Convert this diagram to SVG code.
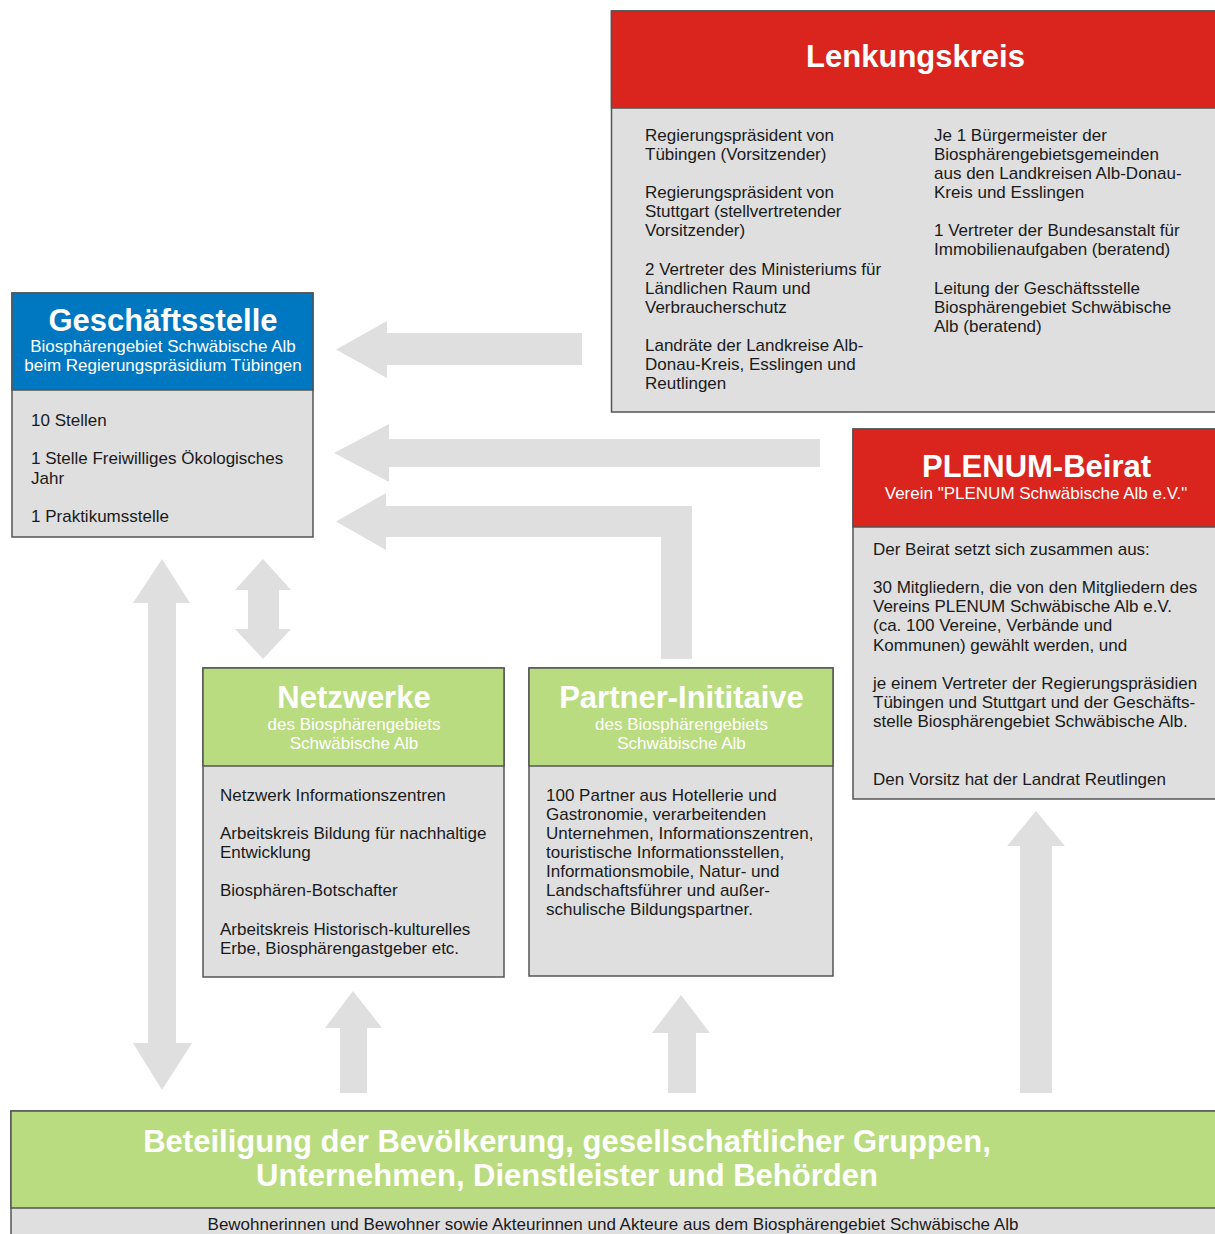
<svg xmlns="http://www.w3.org/2000/svg" width="1215" height="1234" viewBox="0 0 1215 1234">
<style>
.box{fill:#dfdfdf;stroke:#555;stroke-width:1.5}
.red{fill:#d9251d;stroke:#555;stroke-width:1.5}
.blue{fill:#0077c1;stroke:#555;stroke-width:1.5}
.green{fill:#badc80;stroke:#555;stroke-width:1.5}
.arr{fill:#dfdfdf}
text{font-family:"Liberation Sans",Arial,sans-serif}
.t{font-size:31px;font-weight:bold;fill:#fff;text-anchor:middle}
.s{font-size:17px;fill:#fff;text-anchor:middle}
.b{font-size:17px;fill:#1a1a1a}
</style>
<rect width="1215" height="1234" fill="#fff"/>
<g id="connectors">
<polygon class="arr" points="582,333 387,333 387,321 336,349.5 387,378 387,365 582,365"/>
<polygon class="arr" points="820,439 389,439 389,424 334,453 389,482 389,467 820,467"/>
<polygon class="arr" points="692,659 692,506 386,506 386,493 336,521.5 386,550 386,537 661,537 661,659"/>
<polygon class="arr" points="263,559 291,590 279,590 279,629 291,629 263,659 235,629 248,629 248,590 235,590"/>
<polygon class="arr" points="162,559 190,603 176,603 176,1043 192,1043 162,1090 133,1043 148,1043 148,603 133,603"/>
<polygon class="arr" points="353,991 382,1028 367,1028 367,1093 340,1093 340,1028 325,1028"/>
<polygon class="arr" points="681,995 710,1033 696,1033 696,1093 668,1093 668,1033 652,1033"/>
<polygon class="arr" points="1036,811 1065,846 1052,846 1052,1093 1020,1093 1020,846 1007,846"/>
</g>
<g id="lenkungskreis">
<rect class="box" x="611.5" y="11" width="620" height="401"/>
<rect class="red" x="611.5" y="11" width="620" height="97"/>
<text class="t" x="915.5" y="67">Lenkungskreis</text>
<text class="b" x="645" y="141">Regierungspräsident von</text>
<text class="b" x="645" y="160">Tübingen (Vorsitzender)</text>
<text class="b" x="645" y="198">Regierungspräsident von</text>
<text class="b" x="645" y="217">Stuttgart (stellvertretender</text>
<text class="b" x="645" y="236">Vorsitzender)</text>
<text class="b" x="645" y="275">2 Vertreter des Ministeriums für</text>
<text class="b" x="645" y="294">Ländlichen Raum und</text>
<text class="b" x="645" y="313">Verbraucherschutz</text>
<text class="b" x="645" y="351">Landräte der Landkreise Alb-</text>
<text class="b" x="645" y="370">Donau-Kreis, Esslingen und</text>
<text class="b" x="645" y="389">Reutlingen</text>
<text class="b" x="934" y="141">Je 1 Bürgermeister der</text>
<text class="b" x="934" y="160">Biosphärengebietsgemeinden</text>
<text class="b" x="934" y="179">aus den Landkreisen Alb-Donau-</text>
<text class="b" x="934" y="198">Kreis und Esslingen</text>
<text class="b" x="934" y="236">1 Vertreter der Bundesanstalt für</text>
<text class="b" x="934" y="255">Immobilienaufgaben (beratend)</text>
<text class="b" x="934" y="294">Leitung der Geschäftsstelle</text>
<text class="b" x="934" y="313">Biosphärengebiet Schwäbische</text>
<text class="b" x="934" y="332">Alb (beratend)</text>
</g>
<g id="geschaeftsstelle">
<rect class="box" x="12" y="293" width="301" height="244"/>
<rect class="blue" x="12" y="293" width="301" height="97"/>
<text class="t" x="163" y="331">Geschäftsstelle</text>
<text class="s" x="163" y="352">Biosphärengebiet Schwäbische Alb</text>
<text class="s" x="163" y="371">beim Regierungspräsidium Tübingen</text>
<text class="b" x="31" y="426">10 Stellen</text>
<text class="b" x="31" y="464">1 Stelle Freiwilliges Ökologisches</text>
<text class="b" x="31" y="484">Jahr</text>
<text class="b" x="31" y="522">1 Praktikumsstelle</text>
</g>
<g id="plenum">
<rect class="box" x="853" y="429" width="380" height="370"/>
<rect class="red" x="853" y="429" width="380" height="98"/>
<text class="t" x="1036.5" y="477">PLENUM-Beirat</text>
<text class="s" x="1036" y="499">Verein "PLENUM Schwäbische Alb e.V."</text>
<text class="b" x="873" y="555">Der Beirat setzt sich zusammen aus:</text>
<text class="b" x="873" y="593">30 Mitgliedern, die von den Mitgliedern des</text>
<text class="b" x="873" y="612">Vereins PLENUM Schwäbische Alb e.V.</text>
<text class="b" x="873" y="631">(ca. 100 Vereine, Verbände und</text>
<text class="b" x="873" y="651">Kommunen) gewählt werden, und</text>
<text class="b" x="873" y="689">je einem Vertreter der Regierungspräsidien</text>
<text class="b" x="873" y="708">Tübingen und Stuttgart und der Geschäfts-</text>
<text class="b" x="873" y="727">stelle Biosphärengebiet Schwäbische Alb.</text>
<text class="b" x="873" y="785">Den Vorsitz hat der Landrat Reutlingen</text>
</g>
<g id="netzwerke">
<rect class="box" x="203" y="668" width="301" height="309"/>
<rect class="green" x="203" y="668" width="301" height="98"/>
<text class="t" x="354" y="708">Netzwerke</text>
<text class="s" x="354" y="730">des Biosphärengebiets</text>
<text class="s" x="354" y="749">Schwäbische Alb</text>
<text class="b" x="220" y="801">Netzwerk Informationszentren</text>
<text class="b" x="220" y="839">Arbeitskreis Bildung für nachhaltige</text>
<text class="b" x="220" y="858">Entwicklung</text>
<text class="b" x="220" y="896">Biosphären-Botschafter</text>
<text class="b" x="220" y="935">Arbeitskreis Historisch-kulturelles</text>
<text class="b" x="220" y="954">Erbe, Biosphärengastgeber etc.</text>
</g>
<g id="partner">
<rect class="box" x="529" y="668" width="304" height="308"/>
<rect class="green" x="529" y="668" width="304" height="98"/>
<text class="t" x="681.5" y="708">Partner-Inititaive</text>
<text class="s" x="681.5" y="730">des Biosphärengebiets</text>
<text class="s" x="681.5" y="749">Schwäbische Alb</text>
<text class="b" x="546" y="801">100 Partner aus Hotellerie und</text>
<text class="b" x="546" y="820">Gastronomie, verarbeitenden</text>
<text class="b" x="546" y="839">Unternehmen, Informationszentren,</text>
<text class="b" x="546" y="858">touristische Informationsstellen,</text>
<text class="b" x="546" y="877">Informationsmobile, Natur- und</text>
<text class="b" x="546" y="896">Landschaftsführer und außer-</text>
<text class="b" x="546" y="915">schulische Bildungspartner.</text>
</g>
<g id="beteiligung">
<rect class="box" x="11" y="1111" width="1220" height="140"/>
<rect class="green" x="11" y="1111" width="1220" height="97"/>
<text class="t" x="567" y="1152">Beteiligung der Bevölkerung, gesellschaftlicher Gruppen,</text>
<text class="t" x="567" y="1186">Unternehmen, Dienstleister und Behörden</text>
<text class="b" x="613" y="1230" text-anchor="middle">Bewohnerinnen und Bewohner sowie Akteurinnen und Akteure aus dem Biosphärengebiet Schwäbische Alb</text>
</g>
</svg>
